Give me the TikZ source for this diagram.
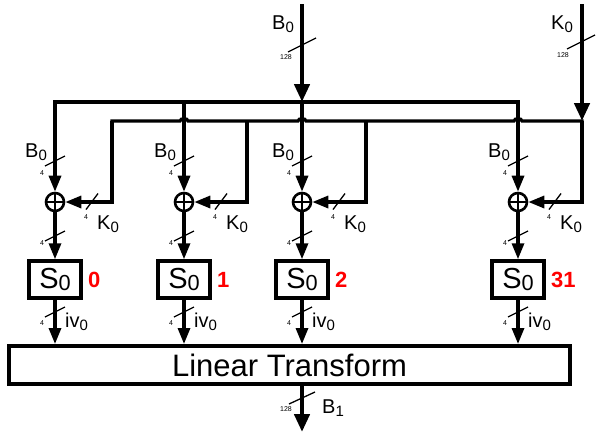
\documentclass[tikz,border=0pt]{standalone}
\usepackage{fontspec}
\setmainfont{Liberation Sans}
\usetikzlibrary{arrows.meta}
\newcommand\lsub[2][0.3ex]{\raisebox{-#1}{\scalebox{0.75}{#2}}}
\begin{document}
\begin{tikzpicture}[x=1pt,y=-1pt,
  bus/.style={line width=3.2pt},
  mainbus/.style={line width=4.4pt},
  arr/.style={-{Triangle[length=16pt,width=12pt]}},
  bigarr/.style={-{Triangle[length=18pt,width=15pt]}},
  slash/.style={line width=1.3pt},
  wlabel/.style={font=\fontsize{7}{8}\selectfont, inner sep=0pt},
  sig/.style={font=\fontsize{20}{22}\selectfont, inner sep=0pt, anchor=base west},
  xorgate/.style={circle, draw, line width=2.6pt, minimum size=18pt, inner sep=0pt,
    path picture={\draw[line width=2.6pt] (path picture bounding box.north) -- (path picture bounding box.south)
      (path picture bounding box.west) -- (path picture bounding box.east);}},
  sbox/.style={draw, line width=4pt, minimum width=52pt, minimum height=36.5pt, inner sep=0pt,
    font=\fontsize{29}{32}\selectfont},
  ltbox/.style={draw, line width=4pt, minimum width=561pt, minimum height=38pt, inner sep=0pt,
    font=\fontsize{31}{34}\selectfont},
  idx/.style={text=red, font=\bfseries\fontsize{22}{24}\selectfont, inner sep=0pt, anchor=west},
]
\useasboundingbox (0,0) rectangle (596,432);

% Linear transform
\node[ltbox] (lt) at (289.5,365) {Linear Transform};

% main inputs
\coordinate (bin) at (302,4);
\coordinate (kin) at (582,4);
\coordinate (bb1) at (55,102);
\coordinate (bb2) at (184,102);
\coordinate (bb3) at (302,102);
\coordinate (bb4) at (518,102);
\coordinate (kc1) at (112,121);
\coordinate (kc2) at (247,121);
\coordinate (kc3) at (366,121);
\coordinate (kc4) at (582,121);
\coordinate (bout) at (302,432);

\draw[mainbus,bigarr] (bin) -- (bb3);
\draw[mainbus,bigarr] (kin) -- (kc4);
\node[sig] (lb) at (272,29) {B\lsub{0}};
\node[sig] (lk) at (551,29) {K\lsub{0}};
\draw[slash] (302,45) ++(-14,7) -- ++(28,-14);
\node[wlabel] (w128a) at (286,57) {128};
\draw[slash] (581,42) ++(-14,7) -- ++(28,-14);
\node[wlabel] (w128b) at (563,55) {128};

% B bus
\draw[bus,line cap=rect] (bb1) -- (bb4);
% K bus with jumps
\draw[bus,line cap=rect] (kc1) -- (180,121) to[out=90,in=90] (188,121)
  -- (298,121) to[out=90,in=90] (306,121)
  -- (514,121) to[out=90,in=90] (522,121) -- (kc4);

\foreach \X/\n/\i in {55/0/1, 184/1/2, 302/2/3, 518/31/4}{
  \node[xorgate] (x\i) at (\X,202) {};
  \node[sbox] (s\i) at (\X,279.5) {S\lsub[0.15ex]{0}};
  \node[idx] (n\i) at (\X+33,280) {\n};
  % B branch
  \draw[bus,arr] (bb\i) -- (x\i.north);
  \node[sig] (lb\i) at (\X-30,157) {B\lsub{0}};
  \draw[slash] (\X,161) ++(-10,5) -- ++(20,-10);
  \node[wlabel] (wb\i) at (\X-13,173) {4};
  % K branch
  \draw[bus,arr] (kc\i) |- (x\i.east);
  \draw[slash] (\X+37,201.5) ++(-6,8) -- ++(12,-16);
  \node[wlabel] (wk\i) at (\X+31,217) {4};
  \node[sig] (lk\i) at (\X+42,229) {K\lsub{0}};
  % XOR to S-box
  \draw[bus,arr] (x\i.south) -- (s\i.north);
  \draw[slash] (\X,236) ++(-10,5) -- ++(20,-10);
  \node[wlabel] (wx\i) at (\X-13,243) {4};
  % S-box to LT
  \draw[bus,arr] (s\i.south) -- (s\i.south |- lt.north);
  \draw[slash] (\X,312) ++(-10,5) -- ++(20,-10);
  \node[wlabel] (ws\i) at (\X-13,323) {4};
  \node[sig] (iv\i) at (\X+10,327) {iv\lsub{0}};
}

% output
\draw[mainbus,bigarr] (lt.south -| bout) -- (bout);
\draw[slash] (302,398) ++(-13,6) -- ++(26,-12);
\node[wlabel] (w128c) at (286,409) {128};
\node[sig] (lb1) at (322,413) {B\lsub{1}};
\end{tikzpicture}
\end{document}
